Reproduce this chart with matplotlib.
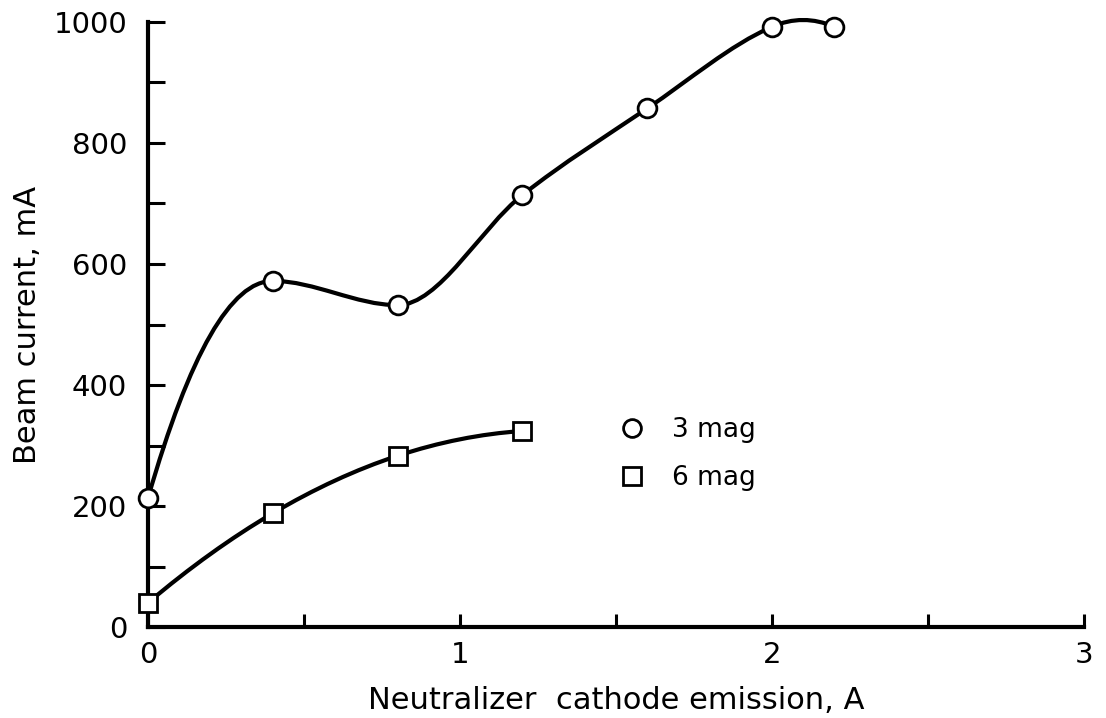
import numpy as np
import matplotlib
matplotlib.use('Agg')
import matplotlib.pyplot as plt
from matplotlib.path import Path
from matplotlib.patches import PathPatch

# datos
emision_3mag = [0.0, 0.4, 0.8, 1.2, 1.6, 2.0, 2.2]
corriente_3mag = [213, 572, 532, 714, 857, 992, 992]
emision_6mag = [0.0, 0.4, 0.8, 1.2]
corriente_6mag = [40, 188, 283, 324]

x_ticks = [0, 0.5, 1, 1.5, 2, 2.5, 3]
x_labels = ['0', '', '1', '', '2', '', '3']
y_ticks = [0, 100, 200, 300, 400, 500, 600, 700, 800, 900, 1000]
y_labels = ['0', '', '200', '', '400', '', '600', '', '800', '', '1000']


def curva_suave(x, y):
    # curva de Hermite: pendientes Catmull-Rom, planas en maximos/minimos
    x = np.asarray(x, float)
    y = np.asarray(y, float)
    n = len(x)
    sec = np.diff(y) / np.diff(x)
    m = np.zeros(n)
    for i in range(1, n - 1):
        if sec[i - 1] * sec[i] < 0:
            m[i] = 0.0
        else:
            m[i] = (y[i + 1] - y[i - 1]) / (x[i + 1] - x[i - 1])
    m[0] = 2 * sec[0] - m[1]
    m[-1] = 2 * sec[-1] - m[-2]
    verts = [(x[0], y[0])]
    codes = [Path.MOVETO]
    for i in range(n - 1):
        h = x[i + 1] - x[i]
        verts += [(x[i] + h / 3, y[i] + m[i] * h / 3),
                  (x[i + 1] - h / 3, y[i + 1] - m[i + 1] * h / 3),
                  (x[i + 1], y[i + 1])]
        codes += [Path.CURVE4] * 3
    return Path(verts, codes)


fig = plt.figure(figsize=(11.06, 7.18), dpi=100)
ax = fig.add_axes([0.1338, 0.1267, 0.8462, 0.8427])

for xs, ys in [(emision_3mag, corriente_3mag), (emision_6mag, corriente_6mag)]:
    ax.add_patch(PathPatch(curva_suave(xs, ys), fill=False, lw=3.0,
                           edgecolor='black', zorder=2, clip_on=False,
                           capstyle='round', joinstyle='round'))

ax.plot(emision_3mag, corriente_3mag, linestyle='none', marker='o', ms=13.5,
        mfc='white', mec='black', mew=2.0, zorder=3, clip_on=False, label='3 mag')
ax.plot(emision_6mag, corriente_6mag, linestyle='none', marker='s', ms=13.5,
        mfc='white', mec='black', mew=2.0, zorder=3, clip_on=False, label='6 mag')

ax.set_xlim(0, 3)
ax.set_ylim(0, 1000)
ax.spines['top'].set_visible(False)
ax.spines['right'].set_visible(False)
ax.spines['left'].set_linewidth(3.0)
ax.spines['bottom'].set_linewidth(3.0)

ax.set_xticks(x_ticks)
ax.set_xticklabels(x_labels, fontsize=21)
ax.set_yticks(y_ticks)
ax.set_yticklabels(y_labels, fontsize=21)
ax.tick_params(axis='x', direction='in', length=9.5, width=2.2, pad=10)
ax.tick_params(axis='y', direction='in', length=12, width=2.2, pad=15)

ax.set_xlabel('Neutralizer  cathode emission, A', fontsize=22, labelpad=12)
ax.set_ylabel('Beam current, mA', fontsize=22, labelpad=8)

ax.legend(loc='upper left', bbox_to_anchor=(0.495, 0.365), frameon=False,
          fontsize=19, handlelength=0.8, handletextpad=1.1, labelspacing=0.85,
          numpoints=1, markerscale=0.95, borderaxespad=0)

plt.savefig('out.png', dpi=100)
